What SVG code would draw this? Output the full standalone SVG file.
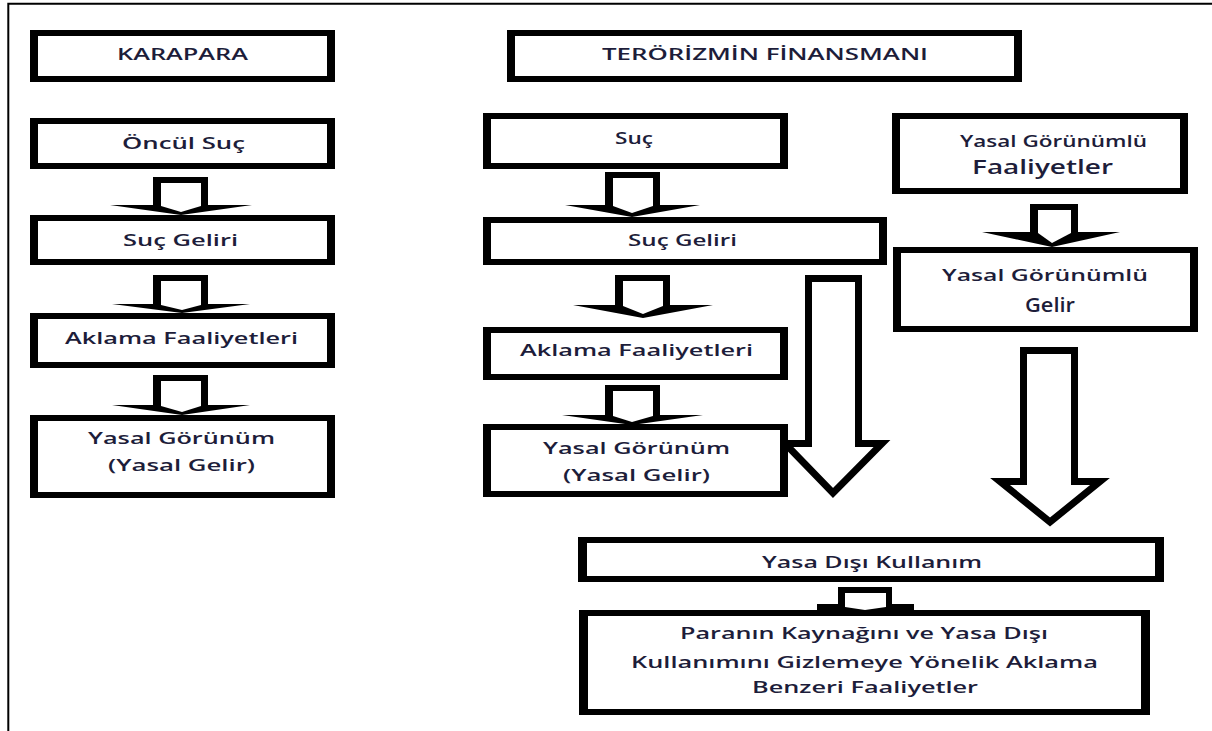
<svg xmlns="http://www.w3.org/2000/svg" width="1212" height="731" viewBox="0 0 1212 731">
<style>
.bg{fill:#ffffff}
.frame{stroke:#000;stroke-width:2;fill:none}
.outer{fill:#000}
.inner{fill:#fff}
.ab{fill:#000}
.aw{fill:#fff}
.big{fill:#fff;stroke:#000;stroke-width:7;stroke-linejoin:miter}
text{font-family:"Open Sans","Liberation Sans",sans-serif;font-size:16px;font-weight:600;fill:#1d1d3a;text-anchor:middle}
.lg{font-size:20px}
</style>
<rect class="bg" x="0" y="0" width="1212" height="731"/>
<polyline class="frame" points="8.3,731 8.3,3.7 1212,3.7"/>

<g id="connectors">
  <!-- left column -->
  <polygon class="ab" points="153,177 208,177 208,205 252,205 181,215 110,205 153,205"/>
  <polygon class="aw" points="161,183 201,183 201,206 181,212 161,206"/>
  <polygon class="ab" points="153,275 208,275 208,304 250,304 182,313 112,304 153,304"/>
  <polygon class="aw" points="161,281 201,281 201,305 182,310 161,305"/>
  <polygon class="ab" points="153,375 208,375 208,405 250,405 182,415 112,405 153,405"/>
  <polygon class="aw" points="161,381 201,381 201,406 182,412 161,406"/>
  <!-- middle column -->
  <polygon class="ab" points="605,172 660,172 660,205 700,205 632,217 565,205 605,205"/>
  <polygon class="aw" points="613,178 653,178 653,206 632,213 613,206"/>
  <polygon class="ab" points="615,275 670,275 670,305 713,305 643,318 573,305 615,305"/>
  <polygon class="aw" points="623,281 663,281 663,306 643,314 623,306"/>
  <polygon class="ab" points="605,385 660,385 660,415 703,415 632,425 562,415 605,415"/>
  <polygon class="aw" points="613,391 653,391 653,416 632,422 613,416"/>
  <!-- right column -->
  <polygon class="ab" points="1030,204 1078,204 1078,232 1120,232 1052,247 982,232 1030,232"/>
  <polygon class="aw" points="1038,210 1071,210 1071,233 1052,243 1038,233"/>
  <!-- big arrows -->
  <polygon class="big" points="808.5,278.5 858.5,278.5 858.5,443.5 882,443.5 833,493 785,443.5 808.5,443.5"/>
  <polygon class="big" points="1023.5,350.5 1074.5,350.5 1074.5,481.5 1100,481.5 1050,522 1000,481.5 1023.5,481.5"/>
  <!-- bottom small arrow -->
  <polygon class="ab" points="838,587 892,587 892,604 914,604 914,610 817,610 817,604 838,604"/>
  <polygon class="aw" points="845,593 886,593 886,607 865,610 845,607"/>
</g>

<g id="karapara">
  <rect class="outer" x="30" y="30" width="305" height="52"/>
  <rect class="inner" x="38" y="36" width="289" height="40"/>
  <text x="182.5" y="60" textLength="131" lengthAdjust="spacingAndGlyphs">KARAPARA</text>
</g>
<g id="terorizm">
  <rect class="outer" x="507" y="30" width="515" height="52"/>
  <rect class="inner" x="515" y="36" width="499" height="40"/>
  <text x="765" y="60" textLength="326" lengthAdjust="spacingAndGlyphs">TERÖRİZMİN FİNANSMANI</text>
</g>
<g id="oncul-suc">
  <rect class="outer" x="30" y="118" width="305" height="51"/>
  <rect class="inner" x="38" y="124" width="289" height="39"/>
  <text x="183.5" y="149" textLength="123" lengthAdjust="spacingAndGlyphs">Öncül Suç</text>
</g>
<g id="suc-geliri-1">
  <rect class="outer" x="30" y="215" width="305" height="50"/>
  <rect class="inner" x="38" y="221" width="289" height="38"/>
  <text x="180.5" y="246" textLength="115" lengthAdjust="spacingAndGlyphs">Suç Geliri</text>
</g>
<g id="aklama-1">
  <rect class="outer" x="30" y="313" width="305" height="55"/>
  <rect class="inner" x="38" y="319" width="289" height="43"/>
  <text x="181.5" y="344" textLength="233" lengthAdjust="spacingAndGlyphs">Aklama Faaliyetleri</text>
</g>
<g id="yasal-gorunum-1">
  <rect class="outer" x="30" y="415" width="305" height="83"/>
  <rect class="inner" x="38" y="421" width="289" height="71"/>
  <text x="181.5" y="444" textLength="187" lengthAdjust="spacingAndGlyphs">Yasal Görünüm</text>
  <text x="181.5" y="471" textLength="147" lengthAdjust="spacingAndGlyphs">(Yasal Gelir)</text>
</g>

<g id="suc">
  <rect class="outer" x="483" y="113" width="305" height="56"/>
  <rect class="inner" x="491" y="119" width="289" height="44"/>
  <text x="634" y="144" textLength="38" lengthAdjust="spacingAndGlyphs">Suç</text>
</g>
<g id="suc-geliri-2">
  <rect class="outer" x="483" y="217" width="404" height="48"/>
  <rect class="inner" x="491" y="223" width="388" height="36"/>
  <text x="682.5" y="246" textLength="109" lengthAdjust="spacingAndGlyphs">Suç Geliri</text>
</g>
<g id="aklama-2">
  <rect class="outer" x="483" y="327" width="305" height="53"/>
  <rect class="inner" x="491" y="333" width="289" height="41"/>
  <text x="636.5" y="356" textLength="233" lengthAdjust="spacingAndGlyphs">Aklama Faaliyetleri</text>
</g>
<g id="yasal-gorunum-2">
  <rect class="outer" x="483" y="424" width="305" height="73"/>
  <rect class="inner" x="491" y="430" width="289" height="61"/>
  <text x="636.5" y="454" textLength="187" lengthAdjust="spacingAndGlyphs">Yasal Görünüm</text>
  <text x="636.5" y="481" textLength="147" lengthAdjust="spacingAndGlyphs">(Yasal Gelir)</text>
</g>

<g id="yasal-faaliyetler">
  <rect class="outer" x="892" y="113" width="296" height="81"/>
  <rect class="inner" x="900" y="119" width="280" height="69"/>
  <text x="1053.5" y="147" textLength="187" lengthAdjust="spacingAndGlyphs">Yasal Görünümlü</text>
  <text class="lg" x="1042.5" y="174" textLength="141" lengthAdjust="spacingAndGlyphs">Faaliyetler</text>
</g>
<g id="yasal-gelir">
  <rect class="outer" x="893" y="247" width="305" height="85"/>
  <rect class="inner" x="901" y="253" width="289" height="73"/>
  <text x="1045" y="281" textLength="206" lengthAdjust="spacingAndGlyphs">Yasal Görünümlü</text>
  <text class="lg" x="1050" y="312" textLength="50" lengthAdjust="spacingAndGlyphs">Gelir</text>
</g>

<g id="yasa-disi">
  <rect class="outer" x="578" y="537" width="586" height="45"/>
  <rect class="inner" x="587" y="543" width="568" height="33"/>
  <text x="872" y="568" textLength="220" lengthAdjust="spacingAndGlyphs">Yasa Dışı Kullanım</text>
</g>
<g id="aklama-benzeri">
  <rect class="outer" x="579" y="610" width="571" height="105"/>
  <rect class="inner" x="588" y="616" width="553" height="93"/>
  <text x="864" y="639" textLength="368" lengthAdjust="spacingAndGlyphs">Paranın Kaynağını ve Yasa Dışı</text>
  <text x="864.5" y="668" textLength="467" lengthAdjust="spacingAndGlyphs">Kullanımını Gizlemeye Yönelik Aklama</text>
  <text x="865" y="693" textLength="226" lengthAdjust="spacingAndGlyphs">Benzeri Faaliyetler</text>
</g>
</svg>
